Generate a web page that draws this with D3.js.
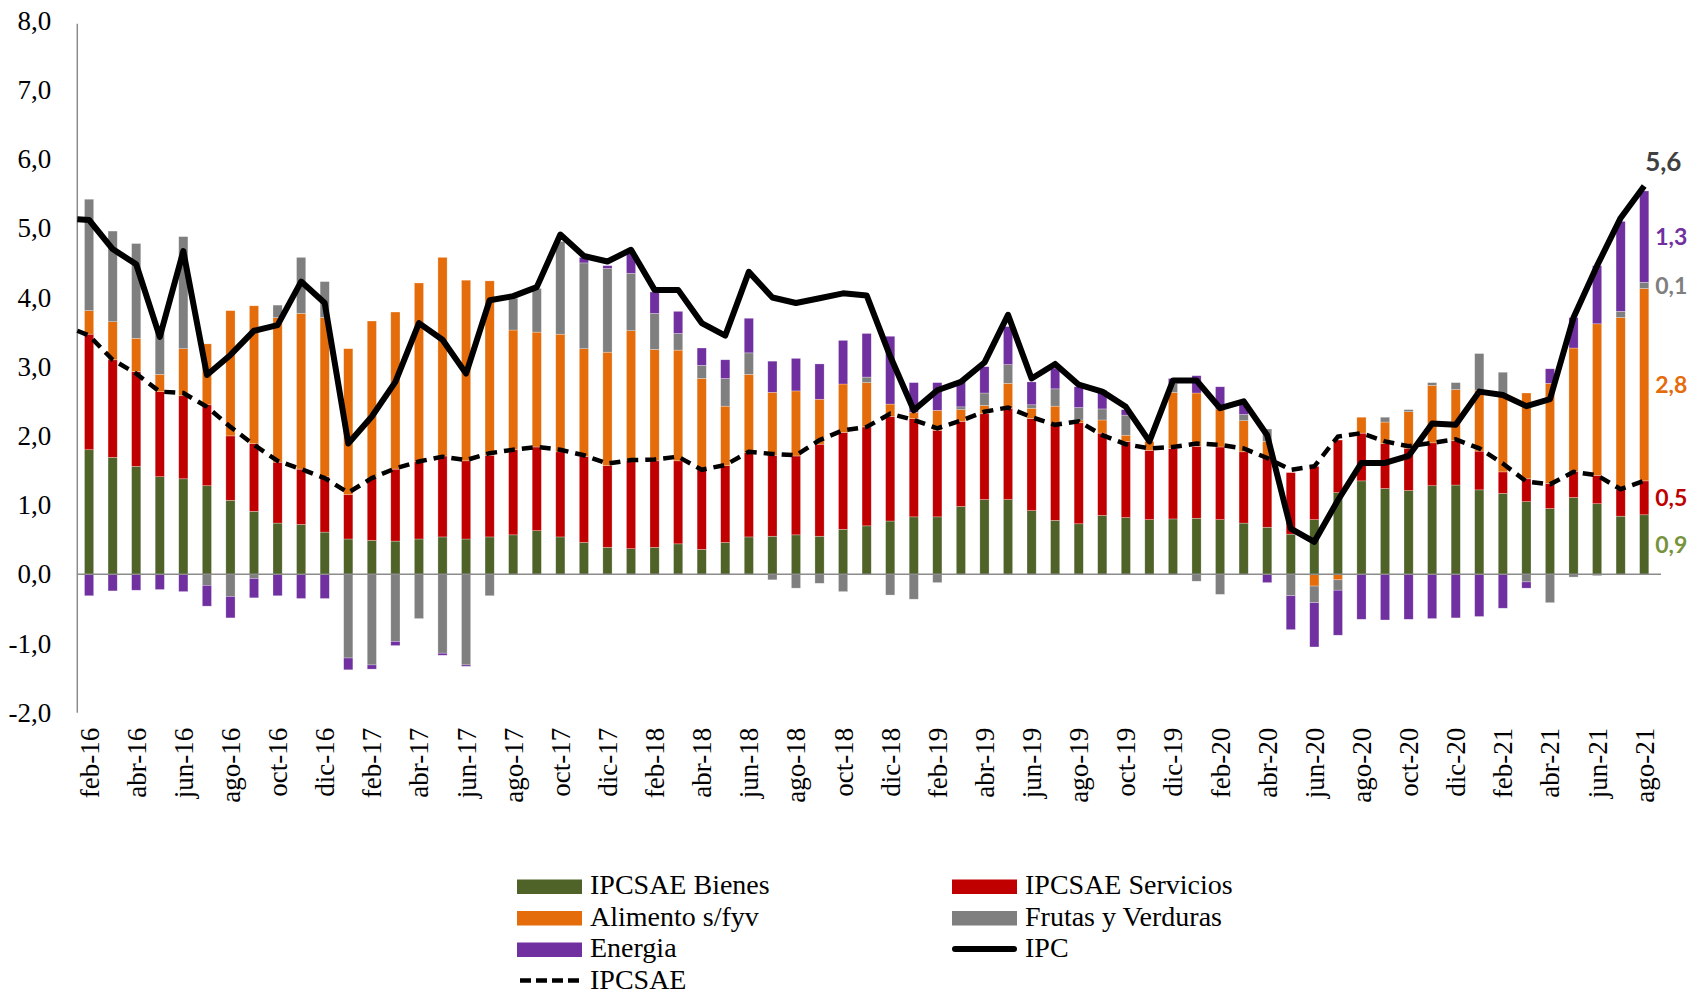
<!DOCTYPE html>
<html>
<head>
<meta charset="utf-8">
<title>IPC: contribuciones por componente</title>
<style>
  body { margin: 0; background: #fff; }
  .axis text { font-family: "Liberation Serif", "Times New Roman", serif; font-size: 27px; fill: #000; }
  .legend text { font-family: "Liberation Serif", "Times New Roman", serif; font-size: 28px; fill: #000; }
  .end-label { font-family: Lato, "Open Sans", sans-serif; font-weight: bold; font-size: 23px; }
</style>
<script src="https://cdnjs.cloudflare.com/ajax/libs/d3/7.8.5/d3.min.js"></script>
</head>
<body>
<div id="chart"></div>
<script>
// categorias (meses)
const months = [
  "feb-16","mar-16","abr-16","may-16","jun-16","jul-16","ago-16","sep-16","oct-16","nov-16","dic-16",
  "ene-17","feb-17","mar-17","abr-17","may-17","jun-17","jul-17","ago-17","sep-17","oct-17","nov-17","dic-17",
  "ene-18","feb-18","mar-18","abr-18","may-18","jun-18","jul-18","ago-18","sep-18","oct-18","nov-18","dic-18",
  "ene-19","feb-19","mar-19","abr-19","may-19","jun-19","jul-19","ago-19","sep-19","oct-19","nov-19","dic-19",
  "ene-20","feb-20","mar-20","abr-20","may-20","jun-20","jul-20","ago-20","sep-20","oct-20","nov-20","dic-20",
  "ene-21","feb-21","mar-21","abr-21","may-21","jun-21","jul-21","ago-21"
];

// contribuciones (pp)
const bienes = [
  1.80,1.69,1.56,1.41,1.38,1.28,1.07,0.91,0.74,0.72,0.61,
  0.51,0.49,0.48,0.51,0.54,0.51,0.54,0.57,0.63,0.54,0.46,0.39,
  0.37,0.39,0.44,0.36,0.46,0.54,0.55,0.57,0.55,0.65,0.70,0.77,
  0.83,0.83,0.98,1.08,1.08,0.92,0.78,0.73,0.85,0.82,0.79,0.80,
  0.81,0.79,0.74,0.68,0.58,0.79,1.18,1.35,1.24,1.21,1.28,1.29,
  1.22,1.17,1.05,0.95,1.11,1.02,0.84,0.86
];
const servicios = [
  1.67,1.41,1.37,1.23,1.20,1.17,0.93,0.98,0.88,0.80,0.80,
  0.64,0.90,1.04,1.12,1.17,1.13,1.18,1.23,1.21,1.23,1.24,1.18,
  1.28,1.25,1.20,1.16,1.11,1.22,1.17,1.14,1.33,1.40,1.43,1.51,
  1.42,1.25,1.23,1.24,1.32,1.33,1.37,1.46,1.19,1.10,1.00,1.02,
  1.04,1.05,1.03,1.01,0.89,0.77,0.76,0.69,0.65,0.61,0.62,0.64,
  0.56,0.31,0.33,0.36,0.38,0.41,0.39,0.49
];
const alimento = [
  0.34,0.55,0.48,0.25,0.68,0.88,1.81,1.99,2.09,2.25,2.30,
  2.11,2.27,2.27,2.58,2.87,2.61,2.52,1.73,1.66,1.70,1.56,1.64,
  1.87,1.61,1.60,1.31,0.86,1.13,0.91,0.94,0.65,0.70,0.64,0.18,
  0.09,0.29,0.17,0.12,0.36,0.15,0.28,0.04,0.19,0.09,0.13,0.81,
  0.77,0.55,0.45,0.23,0.00,-0.17,-0.08,0.23,0.31,0.53,0.83,0.74,
  0.88,1.09,1.24,1.45,1.78,2.19,2.48,2.78
];
const frutas = [
  1.61,1.31,1.37,0.64,1.62,-0.16,-0.32,-0.06,0.18,0.81,0.52,
  -1.21,-1.31,-0.97,-0.64,-1.14,-1.31,-0.31,0.46,0.63,1.34,1.24,1.21,
  0.83,0.52,0.24,0.19,0.40,0.31,-0.08,-0.20,-0.13,-0.25,0.08,-0.30,
  -0.36,-0.12,0.04,0.18,0.27,0.05,0.25,0.18,0.16,0.29,0.00,0.13,
  -0.10,-0.29,0.09,0.18,-0.31,-0.24,-0.15,0.00,0.07,0.03,0.04,0.10,
  0.53,0.35,-0.11,-0.41,-0.04,-0.02,0.09,0.09
];
const energia = [
  -0.31,-0.24,-0.23,-0.22,-0.25,-0.30,-0.31,-0.28,-0.31,-0.35,-0.35,
  -0.17,-0.06,-0.06,0.00,-0.03,-0.02,0.00,0.00,0.00,0.00,0.08,0.04,
  0.29,0.31,0.32,0.25,0.27,0.50,0.45,0.47,0.51,0.63,0.63,0.98,
  0.43,0.40,0.36,0.38,0.55,0.33,0.30,0.30,0.27,0.08,0.00,0.07,
  0.25,0.32,0.16,-0.12,-0.49,-0.64,-0.65,-0.65,-0.66,-0.65,-0.64,-0.63,
  -0.61,-0.49,-0.09,0.21,0.44,0.84,1.30,1.32
];

// lineas (var. % interanual)
const ipc = [
  5.12,4.70,4.48,3.43,4.67,2.88,3.17,3.52,3.60,4.23,3.92,
  1.89,2.28,2.78,3.63,3.39,2.90,3.96,4.02,4.15,4.91,4.60,4.52,
  4.69,4.11,4.11,3.63,3.45,4.37,4.00,3.92,3.99,4.06,4.03,3.15,
  2.37,2.66,2.78,3.06,3.75,2.83,3.04,2.74,2.64,2.42,1.92,2.80,
  2.80,2.40,2.50,2.01,0.66,0.47,1.07,1.61,1.61,1.71,2.18,2.16,
  2.64,2.59,2.43,2.53,3.71,4.46,5.15,5.61
];
const ipcsae = [
  3.45,3.10,2.90,2.64,2.62,2.42,2.13,1.87,1.64,1.52,1.39,
  1.18,1.39,1.53,1.63,1.70,1.65,1.75,1.80,1.84,1.80,1.72,1.60,
  1.65,1.66,1.70,1.51,1.58,1.77,1.74,1.72,1.94,2.08,2.13,2.32,
  2.23,2.11,2.22,2.35,2.41,2.27,2.16,2.21,2.01,1.88,1.82,1.84,
  1.89,1.87,1.82,1.68,1.51,1.56,1.99,2.04,1.92,1.85,1.90,1.95,
  1.82,1.60,1.34,1.30,1.48,1.43,1.23,1.35
];
// valor de ene-16, donde arrancan las lineas (sobre el eje)
const ipcStart = 5.13;
const ipcsaeStart = 3.52;

const seriesKeys = ["bienes", "servicios", "alimento", "frutas", "energia"];
const seriesNames = ["IPCSAE Bienes", "IPCSAE Servicios", "Alimento s/fyv", "Frutas y Verduras", "Energia"];
const seriesColors = ["#4F6228", "#C00000", "#E46C0A", "#7F7F7F", "#7030A0"];
const labelColors = ["#77933C", "#C00000", "#E46C0A", "#7F7F7F", "#7030A0"];
const yTicks = [-2, -1, 0, 1, 2, 3, 4, 5, 6, 7, 8];

const w = 1690;
const h = 996;
const plotLeft = 77.3, plotRight = 1656, plotTop = 20.7, plotBottom = 712.7;
const serif = "'Liberation Serif', 'Times New Roman', serif";

const es = d3.formatLocale({decimal: ",", thousands: ".", grouping: [3], currency: ["", " €"], minus: "-"});
const fmt = es.format(".1f");

const svg = d3.select("#chart").append("svg")
  .attr("width", w)
  .attr("height", h);

const x = d3.scaleBand()
  .domain(months)
  .range([plotLeft, plotRight])
  .paddingInner(0.61)
  .paddingOuter(0.305);

const y = d3.scaleLinear()
  .domain([-2, 8])
  .range([plotBottom, plotTop]);

const rows = months.map((m, i) => ({
  month: m,
  bienes: bienes[i],
  servicios: servicios[i],
  alimento: alimento[i],
  frutas: frutas[i],
  energia: energia[i]
}));

const stacked = d3.stack()
  .keys(seriesKeys)
  .offset(d3.stackOffsetDiverging)(rows);

// y axis labels
const yAxis = d3.axisLeft(y).tickValues(yTicks).tickSize(0).tickPadding(26).tickFormat(fmt);
svg.append("g")
  .attr("class", "axis")
  .attr("font-family", serif)
  .attr("font-size", 27)
  .attr("transform", "translate(" + plotLeft + ",0)")
  .call(yAxis)
  .call(g => g.select(".domain").remove());

svg.append("line")
  .attr("x1", plotLeft).attr("x2", plotLeft)
  .attr("y1", y(8) + 3).attr("y2", y(-2))
  .attr("stroke", "#8c8c8c")
  .attr("stroke-width", 1.5);

// x axis labels (every other month)
const xAxis = d3.axisBottom(x).tickValues(months.filter((m, i) => i % 2 === 0)).tickSize(0);
svg.append("g")
  .attr("class", "axis")
  .attr("font-family", serif)
  .attr("font-size", 27)
  .attr("transform", "translate(0," + plotBottom + ")")
  .call(xAxis)
  .call(g => g.select(".domain").remove())
  .selectAll("text")
  .attr("transform", "rotate(-90)")
  .attr("x", -15)
  .attr("y", 0)
  .attr("dy", "0.35em")
  .style("text-anchor", "end");

// bars
svg.append("g")
  .selectAll("g")
  .data(stacked)
  .enter()
  .append("g")
  .attr("fill", (d, i) => seriesColors[i])
  .selectAll("rect")
  .data(d => d)
  .enter()
  .append("rect")
  .attr("x", d => x(d.data.month))
  .attr("width", x.bandwidth())
  .attr("y", d => y(Math.max(d[0], d[1])))
  .attr("height", d => Math.abs(y(d[0]) - y(d[1])))
  .attr("stroke", "rgba(255,255,255,0.45)")
  .attr("stroke-width", 0.6);

// zero line
svg.append("line")
  .attr("x1", plotLeft).attr("x2", plotRight + 5)
  .attr("y1", y(0)).attr("y2", y(0))
  .attr("stroke", "#8c8c8c")
  .attr("stroke-width", 1.5);

// lines
const cx = m => x(m) + x.bandwidth() / 2;
const line = d3.line().x(d => d.x).y(d => y(d.v));

const ipcPts = [{x: plotLeft, v: ipcStart}].concat(months.map((m, i) => ({x: cx(m), v: ipc[i]})));
const saePts = [{x: plotLeft, v: ipcsaeStart}].concat(months.map((m, i) => ({x: cx(m), v: ipcsae[i]})));

svg.append("path")
  .datum(saePts)
  .attr("d", line)
  .attr("fill", "none")
  .attr("stroke", "#000")
  .attr("stroke-width", 4.5)
  .attr("stroke-dasharray", "11,7");

svg.append("path")
  .datum(ipcPts)
  .attr("d", line)
  .attr("fill", "none")
  .attr("stroke", "#000")
  .attr("stroke-width", 6)
  .attr("stroke-linejoin", "round");

// labels for the last month
const lastIdx = months.length - 1;
const labelX = cx(months[lastIdx]) + 11;
stacked.forEach((s, i) => {
  const d = s[lastIdx];
  svg.append("text")
    .attr("class", "end-label")
    .attr("x", labelX)
    .attr("y", y((d[0] + d[1]) / 2))
    .attr("dy", "0.36em")
    .attr("fill", labelColors[i])
    .text(fmt(d[1] - d[0]));
});
svg.append("text")
  .attr("class", "end-label")
  .attr("x", cx(months[lastIdx]) + 1)
  .attr("y", y(ipc[lastIdx]) - 15)
  .attr("fill", "#404040")
  .style("font-size", "26px")
  .text(fmt(ipc[lastIdx]));

// legend
const legendNames = seriesNames.concat(["IPC", "IPCSAE"]);
const legend = svg.append("g").attr("class", "legend");
legendNames.forEach((name, i) => {
  const col = i % 2, row = Math.floor(i / 2);
  const lx = col === 0 ? 517 : 952;
  const base = 894 + row * 31.5;
  const item = legend.append("g");
  if (i < seriesNames.length) {
    item.append("rect")
      .attr("x", lx).attr("y", base - 14.5)
      .attr("width", 65).attr("height", 14.5)
      .attr("fill", seriesColors[i]);
  } else {
    item.append("line")
      .attr("x1", lx + 3).attr("x2", lx + 62)
      .attr("y1", base - 8).attr("y2", base - 8)
      .attr("stroke", "#000")
      .attr("stroke-width", name === "IPC" ? 6 : 4.5)
      .attr("stroke-linecap", name === "IPC" ? "round" : "butt")
      .attr("stroke-dasharray", name === "IPC" ? null : "11,5");
  }
  item.append("text")
    .attr("x", lx + 73)
    .attr("y", base)
    .attr("font-family", serif)
    .attr("font-size", 27)
    .text(name);
});
</script>
</body>
</html>
